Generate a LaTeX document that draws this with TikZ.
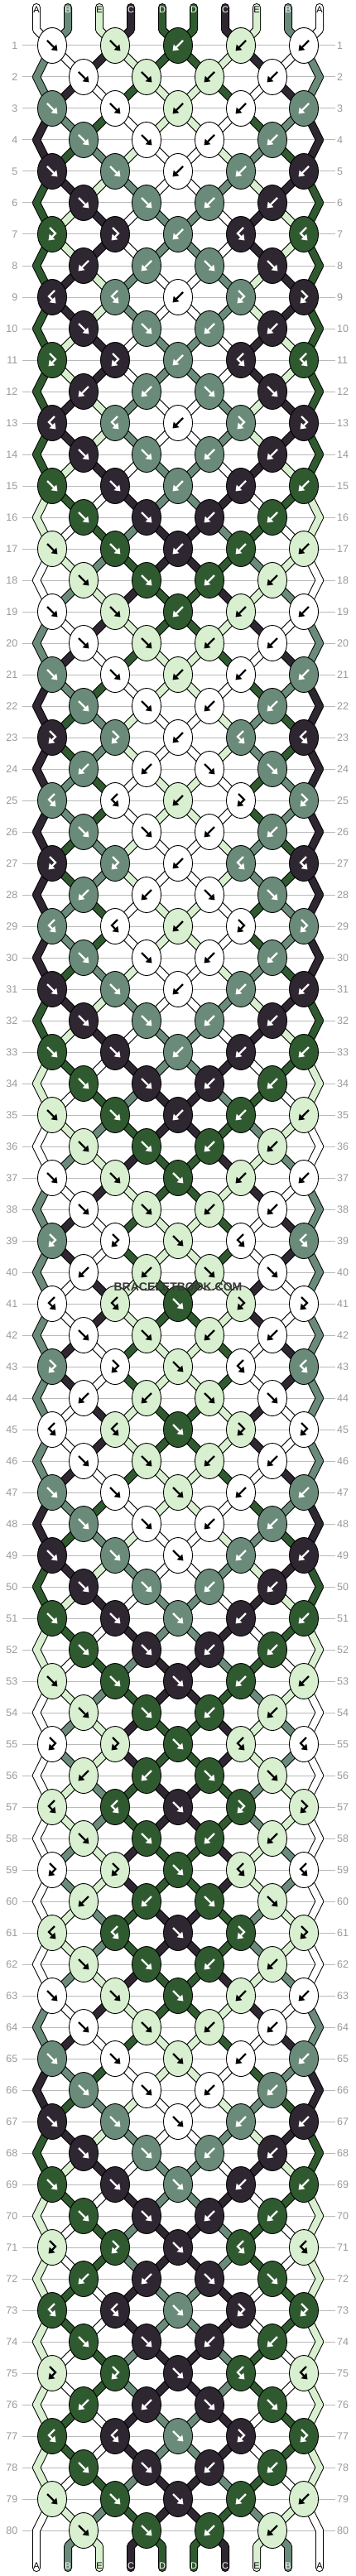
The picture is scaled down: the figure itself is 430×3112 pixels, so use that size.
\documentclass[tikz,border=0pt]{standalone}
\usepackage{fontspec}
\setmainfont{Liberation Sans}
\usetikzlibrary{shapes.geometric,arrows.meta}

\definecolor{colA}{HTML}{FFFFFF}
\definecolor{colB}{HTML}{6A8B7A}
\definecolor{colC}{HTML}{2E2630}
\definecolor{colD}{HTML}{2F5A2F}
\definecolor{colE}{HTML}{D8F0CF}
\colorlet{inkA}{black}
\colorlet{inkB}{white}
\colorlet{inkC}{white}
\colorlet{inkD}{white}
\colorlet{inkE}{black}

\newcommand{\sidef}{1}
\newcommand{\sidebf}{1}
\newcommand{\sideb}{0}
\newcommand{\sidefb}{0}

\begin{document}
\begin{tikzpicture}[x=1pt,y=-1pt]
    \newcommand{\arrf}[0]{\draw[arrowline] (-6,-6) -- (6.5,6.5);}
    \newcommand{\arrb}[0]{\draw[arrowline] (6,-6) -- (-6.5,6.5);}
    \newcommand{\arrfb}[0]{\draw[arrowline] (-3,-8) -- (4,-1) -- (-4.5,7.5);}
    \newcommand{\arrbf}[0]{\draw[arrowline] (3,-8) -- (-4,-1) -- (4.5,7.5);}

    \tikzstyle{rowline}=[draw=black!27, line width=1pt, shorten <=5pt, shorten >=2pt]
    \tikzstyle{rownum}=[text=black!40, font=\fontsize{12.5}{12.5}\selectfont, inner sep=0pt]
    \tikzstyle{strand0}=[line width=10pt, line cap=round, line join=round, draw=black]
    \tikzstyle{strand1}=[line width=8pt, line cap=round, line join=round]
    \tikzstyle{knot}=[
      ellipse,
      draw=black,
      line width=0.9pt,
      minimum width=35pt,
      minimum height=43pt,
      inner sep=0pt,
    ]
    \tikzstyle{arrowline}=[line width=2.3pt, line join=miter, -{Triangle[length=6.5pt 0 0,width=9pt 0 0]}]
    \tikzstyle{endlabel}=[font=\fontsize{11}{11}\selectfont, inner sep=0pt]

    \useasboundingbox (0,0) rectangle (430,3112);

    \foreach \rw/\kt/\st in {
      0/{n}/{A,B,E,C,D,D,C,E,B,A},
      1/{f,f,b,b,b}/{B,A,C,E,D,D,E,C,A,B},
      2/{f,f,b,b}/{B,C,A,D,E,E,D,A,C,B},
      3/{f,f,b,b,b}/{C,B,D,A,E,E,A,D,B,C},
      4/{f,f,b,b}/{C,D,B,E,A,A,E,B,D,C},
      5/{f,f,b,b,b}/{D,C,E,B,A,A,B,E,C,D},
      6/{f,f,b,b}/{D,E,C,A,B,B,A,C,E,D},
      7/{fb,fb,b,bf,bf}/{D,E,C,A,B,B,A,C,E,D},
      8/{b,b,f,f}/{D,C,E,B,A,A,B,E,C,D},
      9/{bf,bf,b,fb,fb}/{D,C,E,B,A,A,B,E,C,D},
      10/{f,f,b,b}/{D,E,C,A,B,B,A,C,E,D},
      11/{fb,fb,b,bf,bf}/{D,E,C,A,B,B,A,C,E,D},
      12/{b,b,f,f}/{D,C,E,B,A,A,B,E,C,D},
      13/{bf,bf,b,fb,fb}/{D,C,E,B,A,A,B,E,C,D},
      14/{f,f,b,b}/{D,E,C,A,B,B,A,C,E,D},
      15/{f,f,b,b,b}/{E,D,A,C,B,B,C,A,D,E},
      16/{f,f,b,b}/{E,A,D,B,C,C,B,D,A,E},
      17/{f,f,b,b,b}/{A,E,B,D,C,C,D,B,E,A},
      18/{f,f,b,b}/{A,B,E,C,D,D,C,E,B,A},
      19/{f,f,b,b,b}/{B,A,C,E,D,D,E,C,A,B},
      20/{f,f,b,b}/{B,C,A,D,E,E,D,A,C,B},
      21/{f,f,b,b,b}/{C,B,D,A,E,E,A,D,B,C},
      22/{f,f,b,b}/{C,D,B,E,A,A,E,B,D,C},
      23/{fb,fb,b,bf,bf}/{C,D,B,E,A,A,E,B,D,C},
      24/{b,b,f,f}/{C,B,D,A,E,E,A,D,B,C},
      25/{bf,bf,b,fb,fb}/{C,B,D,A,E,E,A,D,B,C},
      26/{f,f,b,b}/{C,D,B,E,A,A,E,B,D,C},
      27/{fb,fb,b,bf,bf}/{C,D,B,E,A,A,E,B,D,C},
      28/{b,b,f,f}/{C,B,D,A,E,E,A,D,B,C},
      29/{bf,bf,b,fb,fb}/{C,B,D,A,E,E,A,D,B,C},
      30/{f,f,b,b}/{C,D,B,E,A,A,E,B,D,C},
      31/{f,f,b,b,b}/{D,C,E,B,A,A,B,E,C,D},
      32/{f,f,b,b}/{D,E,C,A,B,B,A,C,E,D},
      33/{f,f,b,b,b}/{E,D,A,C,B,B,C,A,D,E},
      34/{f,f,b,b}/{E,A,D,B,C,C,B,D,A,E},
      35/{f,f,b,b,b}/{A,E,B,D,C,C,D,B,E,A},
      36/{f,f,b,b}/{A,B,E,C,D,D,C,E,B,A},
      37/{f,f,f,b,b}/{B,A,C,E,D,D,E,C,A,B},
      38/{f,f,b,b}/{B,C,A,D,E,E,D,A,C,B},
      39/{fb,fb,f,bf,bf}/{B,C,A,D,E,E,D,A,C,B},
      40/{b,b,f,f}/{B,A,C,E,D,D,E,C,A,B},
      41/{bf,bf,f,fb,fb}/{B,A,C,E,D,D,E,C,A,B},
      42/{f,f,b,b}/{B,C,A,D,E,E,D,A,C,B},
      43/{fb,fb,f,bf,bf}/{B,C,A,D,E,E,D,A,C,B},
      44/{b,b,f,f}/{B,A,C,E,D,D,E,C,A,B},
      45/{bf,bf,f,fb,fb}/{B,A,C,E,D,D,E,C,A,B},
      46/{f,f,b,b}/{B,C,A,D,E,E,D,A,C,B},
      47/{f,f,f,b,b}/{C,B,D,A,E,E,A,D,B,C},
      48/{f,f,b,b}/{C,D,B,E,A,A,E,B,D,C},
      49/{f,f,f,b,b}/{D,C,E,B,A,A,B,E,C,D},
      50/{f,f,b,b}/{D,E,C,A,B,B,A,C,E,D},
      51/{f,f,f,b,b}/{E,D,A,C,B,B,C,A,D,E},
      52/{f,f,b,b}/{E,A,D,B,C,C,B,D,A,E},
      53/{f,f,f,b,b}/{A,E,B,D,C,C,D,B,E,A},
      54/{f,f,b,b}/{A,B,E,C,D,D,C,E,B,A},
      55/{fb,fb,f,bf,bf}/{A,B,E,C,D,D,C,E,B,A},
      56/{b,b,f,f}/{A,E,B,D,C,C,D,B,E,A},
      57/{bf,bf,f,fb,fb}/{A,E,B,D,C,C,D,B,E,A},
      58/{f,f,b,b}/{A,B,E,C,D,D,C,E,B,A},
      59/{fb,fb,f,bf,bf}/{A,B,E,C,D,D,C,E,B,A},
      60/{b,b,f,f}/{A,E,B,D,C,C,D,B,E,A},
      61/{bf,bf,f,fb,fb}/{A,E,B,D,C,C,D,B,E,A},
      62/{f,f,b,b}/{A,B,E,C,D,D,C,E,B,A},
      63/{f,f,f,b,b}/{B,A,C,E,D,D,E,C,A,B},
      64/{f,f,b,b}/{B,C,A,D,E,E,D,A,C,B},
      65/{f,f,f,b,b}/{C,B,D,A,E,E,A,D,B,C},
      66/{f,f,b,b}/{C,D,B,E,A,A,E,B,D,C},
      67/{f,f,f,b,b}/{D,C,E,B,A,A,B,E,C,D},
      68/{f,f,b,b}/{D,E,C,A,B,B,A,C,E,D},
      69/{f,f,f,b,b}/{E,D,A,C,B,B,C,A,D,E},
      70/{f,f,b,b}/{E,A,D,B,C,C,B,D,A,E},
      71/{fb,fb,f,bf,bf}/{E,A,D,B,C,C,B,D,A,E},
      72/{b,b,f,f}/{E,D,A,C,B,B,C,A,D,E},
      73/{bf,bf,f,fb,fb}/{E,D,A,C,B,B,C,A,D,E},
      74/{f,f,b,b}/{E,A,D,B,C,C,B,D,A,E},
      75/{fb,fb,f,bf,bf}/{E,A,D,B,C,C,B,D,A,E},
      76/{b,b,f,f}/{E,D,A,C,B,B,C,A,D,E},
      77/{bf,bf,f,fb,fb}/{E,D,A,C,B,B,C,A,D,E},
      78/{f,f,b,b}/{E,A,D,B,C,C,B,D,A,E},
      79/{f,f,f,b,b}/{A,E,B,D,C,C,D,B,E,A},
      80/{f,f,b,b}/{A,B,E,C,D,D,C,E,B,A}} {
      \foreach \ty [count=\kn] in \kt {\expandafter\xdef\csname t\rw:\kn\endcsname{\ty}}
      \foreach \strc [count=\ps] in \st {\expandafter\xdef\csname s\rw:\ps\endcsname{\strc}}
    }

    \foreach \rw in {0,...,81} {
      \foreach \ps in {1,...,10} {
        \pgfmathsetmacro\sx{(\rw==0 || \rw==81 || (iseven(\rw) && (\ps==1 || \ps==10))) ? 0 : 1-2*mod(\ps+\rw,2)}
        \pgfmathsetmacro\py{\rw==0 ? 36 : (\rw==81 ? 3076 : 17+38*\rw)}
        \coordinate (s\rw-\ps) at ({6+38*\ps+19*\sx},\py);
      }
    }

    \foreach \rw in {1,...,80} {
      \node[rownum, anchor=east] (ll\rw) at (21.5,{17+38*\rw}) {\rw};
      \node[rownum, anchor=west] (lr\rw) at (407,{17+38*\rw}) {\rw};
      \draw[rowline] (ll\rw.east) -- (lr\rw.west);
    }

    \foreach \layer in {0,1} {
      \foreach \rw in {0,...,80} {
        \pgfmathtruncatemacro\rr{\rw+1}
        \foreach \ps in {1,...,10} {
          \edef\strc{\csname s\rw:\ps\endcsname}
          \ifnum\rw=0
            \draw[draw=col\strc, strand\layer] ([yshift=27pt]s\rw-\ps) -- (s\rw-\ps) -- (s\rr-\ps);
          \else\ifnum\rw=80
            \draw[draw=col\strc, strand\layer] (s\rw-\ps) -- (s\rr-\ps) -- ([yshift=-26pt]s\rr-\ps);
          \else
            \draw[draw=col\strc, strand\layer] (s\rw-\ps) -- (s\rr-\ps);
          \fi\fi
        }
      }
    }

    \foreach \rw in {1,...,80} {
      \pgfmathtruncatemacro\nk{isodd(\rw) ? 5 : 4}
      \foreach \kn in {1,...,\nk} {
        \pgfmathtruncatemacro\pl{isodd(\rw) ? 2*\kn-1 : 2*\kn}
        \edef\ty{\csname t\rw:\kn\endcsname}
        \edef\pc{\the\numexpr\pl+\csname side\ty\endcsname\relax}
        \edef\kc{\csname s\rw:\pc\endcsname}
        \node[knot, fill=col\kc] (k\rw-\kn) at (s\rw-\pl) {};
        \begin{scope}[shift={(k\rw-\kn)}, color=ink\kc]
          \csname arr\ty\endcsname
        \end{scope}
      }
    }

    \foreach \strc [count=\ps] in {A,B,E,C,D,D,C,E,B,A} {
      \node[endlabel, text=ink\strc] (top\ps) at ([yshift=24pt]s0-\ps) {\strc};
      \node[endlabel, text=ink\strc] (bot\ps) at ([yshift=-24pt]s81-\ps) {\strc};
    }

    \node[font=\bfseries\fontsize{14}{14}\selectfont, text=black!78, inner sep=1pt] (mark) at (215,1555) {BRACELETBOOK.COM};
\end{tikzpicture}
\end{document}
